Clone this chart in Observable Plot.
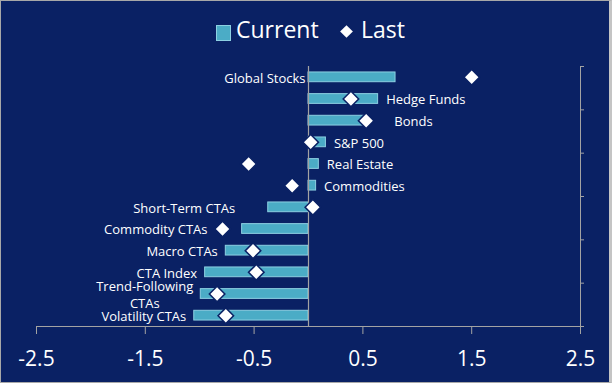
<!DOCTYPE html>
<html><head><meta charset="utf-8">
<script src="https://cdn.jsdelivr.net/npm/d3@7"></script>
<script src="https://cdn.jsdelivr.net/npm/@observablehq/plot@0.6"></script>
<style>
html,body{margin:0;padding:0;background:#0a2164;}
#wrap{position:relative;width:612px;height:383px;background:#0a2164;overflow:hidden;font-family:"Open Sans",sans-serif;color:#fff;}
#legend{position:relative;height:56px;}
#legend .t{position:absolute;top:18px;line-height:23px;font-size:23px;white-space:nowrap;}
#legend .sq{position:absolute;left:216px;top:25px;width:13px;height:14px;background:#4bacc6;border:1px solid #8dd0e2;}
#legend .dm{position:absolute;left:342px;top:27px;width:9px;height:9px;background:#fff;transform:rotate(45deg);}
#border{position:absolute;left:0;top:0;right:0;bottom:0;border:1px solid #a8a8a8;border-right:3px solid #c4c4c4;pointer-events:none;}
#chart svg{display:block;}
</style></head>
<body><div id="wrap">
<div id="legend"></div>
<div id="chart"></div>
<div id="border"></div>
</div>
<script>
const categories = ["Global Stocks","Hedge Funds","Bonds","S&P 500","Real Estate","Commodities","Short-Term CTAs","Commodity CTAs","Macro CTAs","CTA Index","Trend-Following CTAs","Volatility CTAs"];
const current = [0.80, 0.64, 0.55, 0.16, 0.095, 0.07, -0.37, -0.61, -0.76, -0.95, -0.99, -1.05];
const last = [1.50, 0.39, 0.53, 0.02, -0.55, -0.15, 0.04, -0.79, -0.51, -0.48, -0.84, -0.76];
const xTicks = [-2.5, -1.5, -0.5, 0.5, 1.5, 2.5];
const seriesNames = ["Current", "Last"];

// legend
const lg = document.getElementById("legend");
lg.innerHTML = `<div class="sq"></div><span class="t" style="left:236px">${seriesNames[0]}</span><div class="dm"></div><span class="t" style="left:361px">${seriesNames[1]}</span>`;

const W = 612, H = 327, mT = 10, mB = 57, mL = 36, mR = 32;
const n = categories.length;
const step = (H - mT - mB) / n;
const pxPerUnit = (W - mL - mR) / (xTicks[xTicks.length - 1] - xTicks[0]);
const xMin = xTicks[0], xMax = xTicks[xTicks.length - 1];
const bg = "#0a2164", axisGray = "#a3a3a3";

const data = categories.map((c, i) => ({cat: c, current: current[i], last: last[i]}));

// label placement (Excel-style data labels)
const tweaks = {
  "Global Stocks": {at: 0, anchor: "end", dx: -3},
  "Bonds": {dx: 26},
  "Short-Term CTAs": {dx: -33},
  "Commodity CTAs": {dx: -15},
  "Trend-Following CTAs": {anchor: "middle", dx: -56, text: "Trend-Following\nCTAs"}
};
const labelMarks = data.map(d => {
  const pos = d.current >= 0;
  const base = pos ? Math.max(d.current, d.last) : Math.min(d.current, d.last);
  const t = tweaks[d.cat] || {};
  const at = t.at !== undefined ? t.at : base;
  return Plot.text([d], {
    x: () => at, y: "cat",
    text: () => t.text || d.cat,
    textAnchor: t.anchor || (pos ? "start" : "end"),
    dx: t.dx !== undefined ? t.dx : (pos ? 8 : -8),
    fill: "white", fontSize: 13, lineHeight: 1.3
  });
});

const evenCats = categories.filter((c, i) => i % 2 === 0);
const lastCat = [categories[n - 1]];

const chart = Plot.plot({
  width: W, height: H,
  marginTop: mT, marginBottom: mB, marginLeft: mL, marginRight: mR,
  style: {background: bg, color: "white", fontFamily: "'Open Sans', sans-serif", overflow: "visible"},
  x: {domain: [xMin, xMax]},
  y: {domain: categories, paddingInner: 0.55, paddingOuter: 0.275, round: false, axis: null},
  marks: [
    Plot.barX(data, {x: "current", y: "cat", fill: "#4bacc6", stroke: "#8dd0e2", strokeWidth: 1}),
    Plot.ruleX([0], {stroke: axisGray, strokeWidth: 1.2}),
    Plot.ruleX([xMax], {stroke: axisGray, strokeWidth: 1}),
    Plot.ruleY(evenCats, {y: d => d, x1: xMax, x2: xMax + 4 / pxPerUnit, dy: -step / 2, stroke: axisGray}),
    Plot.ruleY(lastCat, {y: d => d, x1: xMax, x2: xMax + 4 / pxPerUnit, dy: step / 2, stroke: axisGray}),
    Plot.ruleY(lastCat, {y: d => d, x1: xMin, x2: xMax, dy: step / 2, stroke: axisGray, strokeWidth: 1.2}),
    Plot.axisX({ticks: xTicks, tickSize: 8, tickPadding: 17, tickFormat: d => d.toFixed(1), fontSize: 21, stroke: axisGray, fill: "white"}),
    Plot.dot(data, {x: "last", y: "cat", symbol: "square", rotate: 45, r: 6.2, fill: "white", stroke: bg, strokeWidth: 1.5}),
    ...labelMarks
  ]
});
document.getElementById("chart").appendChild(chart);
</script>
</body></html>
